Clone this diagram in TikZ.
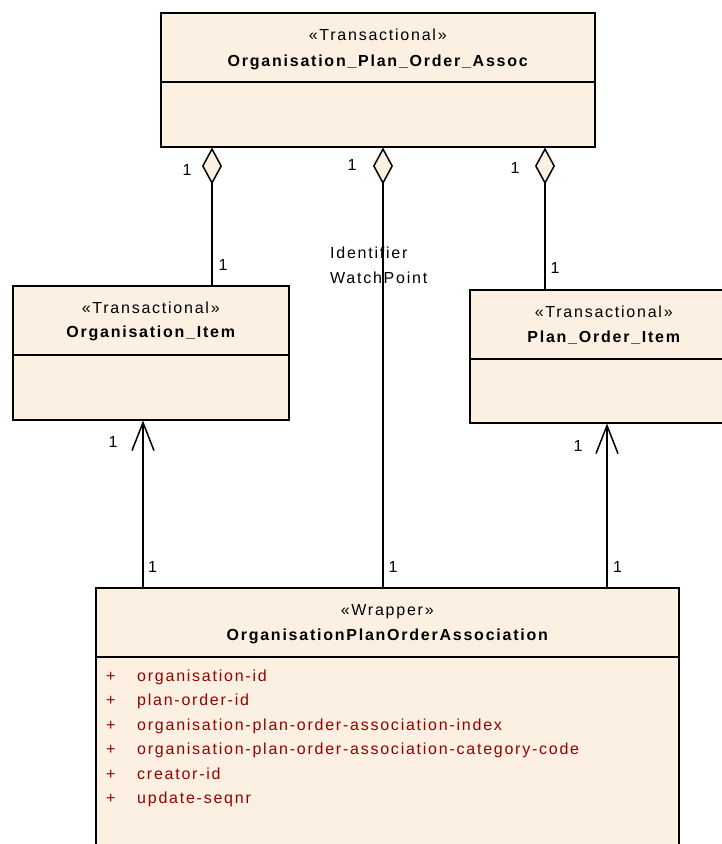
\documentclass[tikz,border=0pt]{standalone}
\usepackage{fontspec}
\setmainfont{Liberation Sans}[LetterSpace=11]
\usetikzlibrary{arrows.meta}
\definecolor{boxfill}{RGB}{251,240,226}
\definecolor{attr}{RGB}{150,0,0}
\tikzset{
  umlbox/.style={draw=black, fill=boxfill, line width=1.5pt, inner sep=0pt, anchor=north west},
  stereo/.style={font=\fontsize{16}{19}\selectfont, inner sep=0pt, anchor=base},
  cname/.style={font=\fontsize{16}{19}\selectfont\bfseries, inner sep=0pt, anchor=base},
  mult/.style={font=\fontsize{16}{19}\selectfont, inner sep=0pt, anchor=base},
  rolelbl/.style={font=\fontsize{16}{19}\selectfont, inner sep=0pt, anchor=base west},
  attrtxt/.style={font=\fontsize{16}{19}\selectfont, text=attr, inner sep=0pt, anchor=base west},
  divider/.style={line width=1.5pt},
  conn/.style={line width=1.5pt},
  aggr/.style={conn, {Diamond[length=37pt,width=20pt,fill=boxfill]}-},
  nav/.style={conn, -{Straight Barb[length=28pt,width=22pt]}},
}
\begin{document}
\begin{tikzpicture}[x=1pt,y=-1pt]
\useasboundingbox (0,0) rectangle (722,844);
\clip (0,0) rectangle (722,844);
% boxes
\node[umlbox, minimum width=434pt, minimum height=134pt] (top) at (160,12) {};
\node[umlbox, minimum width=276pt, minimum height=134pt] (oi) at (12,285) {};
\node[umlbox, minimum width=268pt, minimum height=133pt] (poi) at (469,289) {};
\node[umlbox, minimum width=583pt, minimum height=320pt] (wr) at (95,587) {};
% dividers
\draw[divider] ([yshift=-70pt]top.north west) -- ([yshift=-70pt]top.north east);
\draw[divider] ([yshift=-70pt]oi.north west) -- ([yshift=-70pt]oi.north east);
\draw[divider] ([yshift=-70pt]poi.north west) -- ([yshift=-70pt]poi.north east);
\draw[divider] ([yshift=-70pt]wr.north west) -- ([yshift=-70pt]wr.north east);
% texts
\node[stereo] (topst) at ([yshift=-28pt]top.north) {«Transactional»};
\node[cname] (topnm) at ([yshift=-54.5pt]top.north) {Organisation\_Plan\_Order\_Assoc};
\node[stereo] (oist) at ([yshift=-28pt]oi.north) {«Transactional»};
\node[cname] (oinm) at ([yshift=-52.5pt]oi.north) {Organisation\_Item};
\node[stereo] (poist) at ([yshift=-28pt]poi.north) {«Transactional»};
\node[cname] (poinm) at ([yshift=-53.5pt]poi.north) {Plan\_Order\_Item};
\node[stereo] (wrst) at ([yshift=-28pt]wr.north) {«Wrapper»};
\node[cname] (wrnm) at ([yshift=-53.5pt]wr.north) {OrganisationPlanOrderAssociation};
% attributes
\node[attrtxt] (p1) at (106,681) {+};
\node[attrtxt] (a1) at (137,681) {organisation-id};
\node[attrtxt] (p2) at (106,705.5) {+};
\node[attrtxt] (a2) at (137,705.5) {plan-order-id};
\node[attrtxt] (p3) at (106,730) {+};
\node[attrtxt] (a3) at (137,730) {organisation-plan-order-association-index};
\node[attrtxt] (p4) at (106,754.5) {+};
\node[attrtxt] (a4) at (137,754.5) {organisation-plan-order-association-category-code};
\node[attrtxt] (p5) at (106,779) {+};
\node[attrtxt] (a5) at (137,779) {creator-id};
\node[attrtxt] (p6) at (106,803.5) {+};
\node[attrtxt] (a6) at (137,803.5) {update-seqnr};
% connectors
\draw[aggr] ([xshift=52pt]top.south west) -- ([xshift=52pt]top.south west |- oi.north);
\draw[aggr] ([xshift=223pt]top.south west) -- ([xshift=223pt]top.south west |- wr.north);
\draw[aggr] ([xshift=385pt]top.south west) -- ([xshift=385pt]top.south west |- poi.north);
\draw[nav] ([xshift=48pt]wr.north west) -- ([xshift=48pt]wr.north west |- oi.south);
\draw[nav] ([xshift=512pt]wr.north west) -- ([xshift=512pt]wr.north west |- poi.south);
% multiplicities
\node[mult] (m1) at (187,175) {1};
\node[mult] (m2) at (352,170) {1};
\node[mult] (m3) at (515,173) {1};
\node[mult] (m4) at (223,270) {1};
\node[mult] (m5) at (555,273) {1};
\node[mult] (m6) at (113,447) {1};
\node[mult] (m7) at (578,451) {1};
\node[mult] (m8) at (152.5,572) {1};
\node[mult] (m9) at (393,572) {1};
\node[mult] (m10) at (617.5,572) {1};
% role label
\node[rolelbl] (r1) at (330,258) {Identifier};
\node[rolelbl] (r2) at (330,283) {WatchPoint};
\end{tikzpicture}
\end{document}
